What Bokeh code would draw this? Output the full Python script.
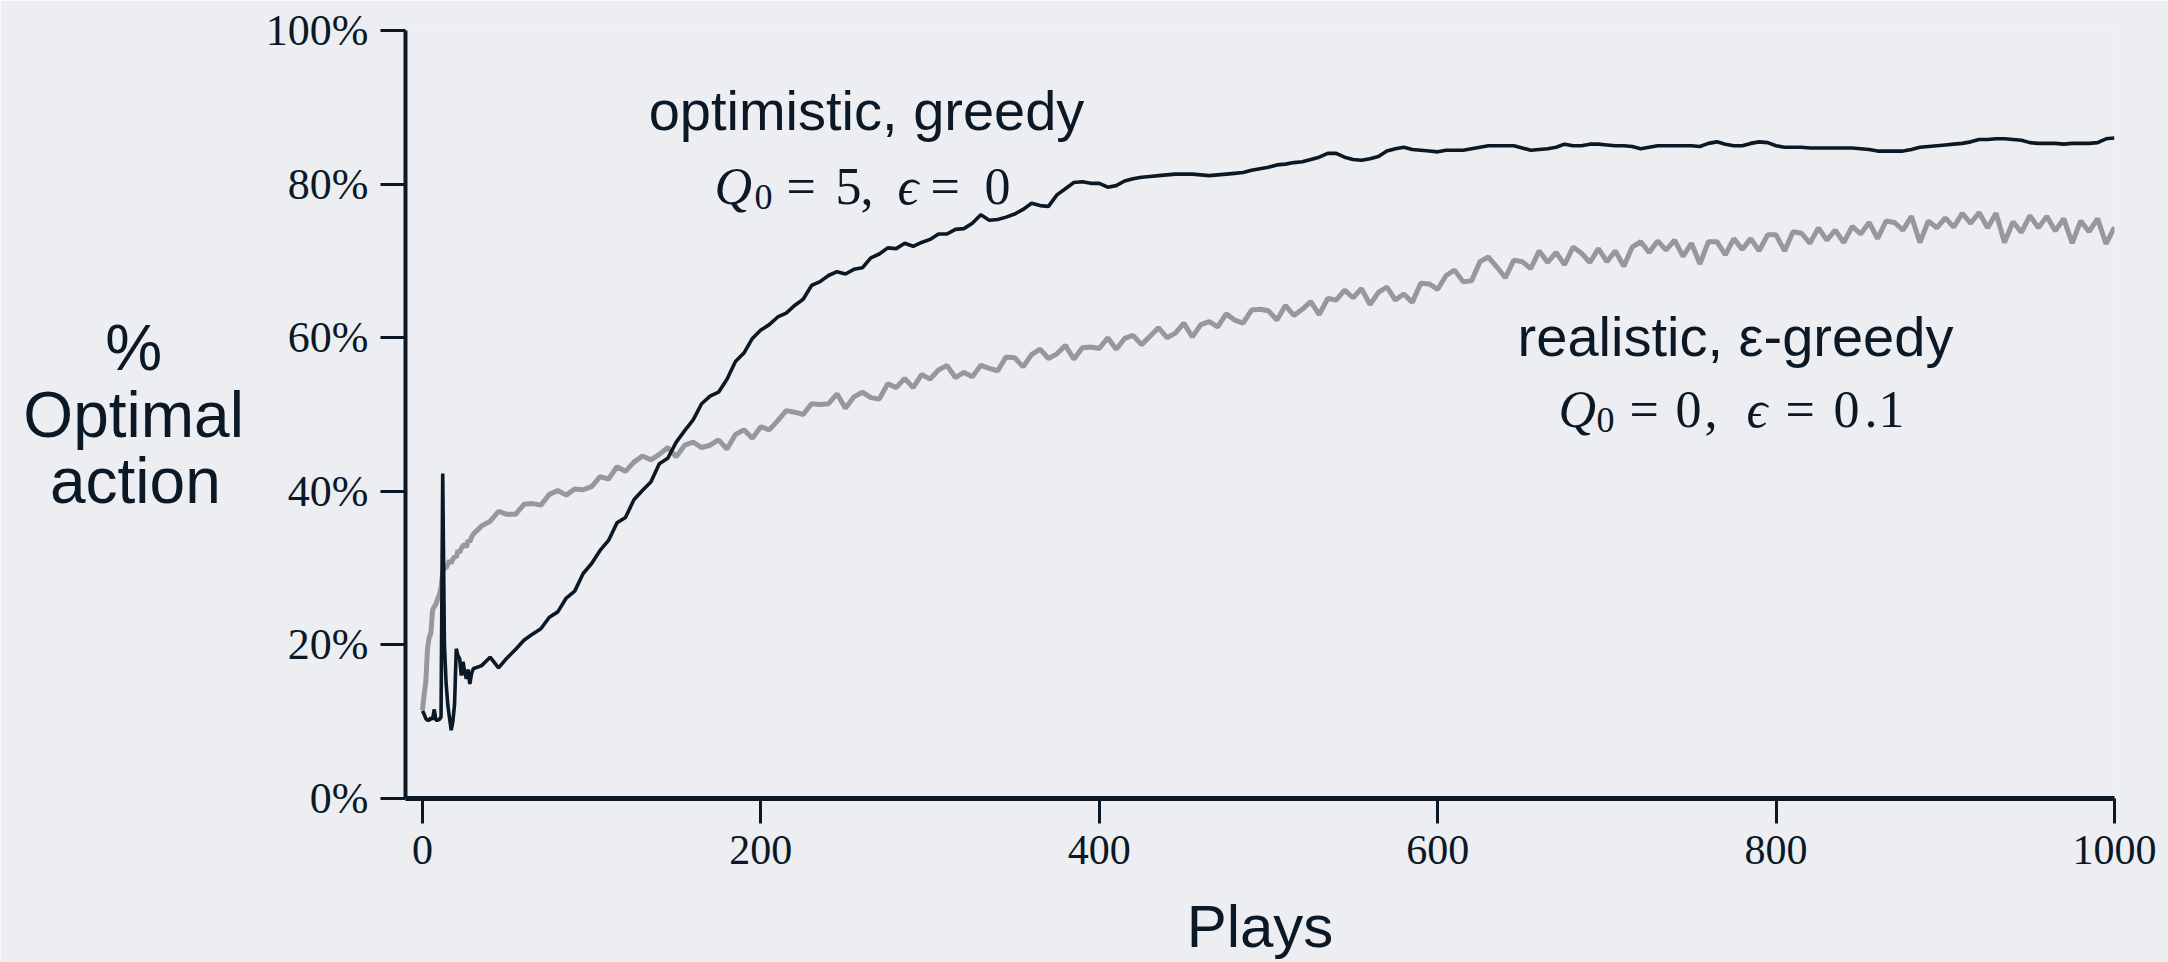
from bokeh.plotting import figure
from bokeh.models import FixedTicker, Label, Range1d, ColumnDataSource
from bokeh.embed import file_html
from bokeh.resources import INLINE

# ---------------- data ----------------
plays = list(range(0, 31)) + list(range(35, 1001, 5))

optimistic_greedy = [
    # plays 0-30
    11.4, 11.0, 10.4, 10.2, 10.2, 10.5, 10.3, 11.6, 10.2, 10.2,
    10.3, 10.6, 42.3, 20.0, 15.0, 12.2, 10.5, 8.9, 10.0, 12.3,
    19.5, 18.6, 18.2, 16.0, 17.8, 16.4, 15.6, 16.8, 14.9, 16.2, 16.9,
    # plays 35-95
    17.3, 18.4, 17.0, 18.3, 19.4, 20.6, 21.4, 22.1, 23.6, 24.3, 26.1, 27.0, 29.3,
    # plays 100-195
    30.6, 32.3, 33.6, 35.9, 36.6, 38.9, 40.1, 41.2, 43.6, 44.3,
    46.4, 47.9, 49.3, 51.4, 52.4, 52.9, 54.6, 56.9, 58.0, 59.9,
    # plays 200-295
    61.0, 61.7, 62.7, 63.2, 64.2, 65.0, 66.8, 67.3, 68.1, 68.6,
    68.3, 68.9, 69.1, 70.4, 70.9, 71.7, 71.6, 72.3, 71.9, 72.4,
    # plays 300-395
    72.8, 73.5, 73.5, 74.1, 74.2, 74.9, 76.0, 75.3, 75.4, 75.7,
    76.1, 76.7, 77.5, 77.2, 77.1, 78.6, 79.4, 80.2, 80.3, 80.1,
    # plays 400-495
    80.1, 79.6, 79.8, 80.4, 80.7, 80.9, 81.0, 81.1, 81.2, 81.3,
    81.3, 81.3, 81.2, 81.1, 81.2, 81.3, 81.4, 81.5, 81.8, 82.0,
    # plays 500-595
    82.2, 82.5, 82.6, 82.8, 82.9, 83.2, 83.5, 84.0, 84.0, 83.5,
    83.2, 83.1, 83.3, 83.6, 84.3, 84.6, 84.8, 84.5, 84.4, 84.3,
    # plays 600-695
    84.2, 84.4, 84.4, 84.4, 84.6, 84.8, 85.0, 85.0, 85.0, 85.0,
    84.7, 84.4, 84.5, 84.6, 84.8, 85.2, 85.0, 85.0, 85.2, 85.2,
    # plays 700-795
    85.1, 85.0, 85.0, 84.9, 84.6, 84.8, 85.0, 85.0, 85.0, 85.0,
    85.0, 84.9, 85.3, 85.5, 85.2, 85.0, 85.0, 85.3, 85.5, 85.4,
    # plays 800-895
    85.0, 84.8, 84.8, 84.8, 84.7, 84.7, 84.7, 84.7, 84.7, 84.7,
    84.6, 84.5, 84.3, 84.3, 84.3, 84.3, 84.5, 84.8, 84.9, 85.0,
    # plays 900-995
    85.1, 85.2, 85.3, 85.5, 85.8, 85.8, 85.9, 85.9, 85.8, 85.7,
    85.4, 85.3, 85.3, 85.3, 85.2, 85.3, 85.3, 85.3, 85.4, 85.9,
    # play 1000
    86.0,
]

realistic_egreedy = [
    # plays 0-30
    11.5, 13.5, 15.2, 19.5, 21.0, 21.5, 24.5, 25.0, 25.3, 26.0,
    26.5, 27.5, 29.5, 30.1, 30.0, 30.5, 31.0, 30.6, 31.2, 31.5,
    31.4, 32.3, 32.0, 32.6, 32.9, 33.1, 32.7, 33.6, 33.4, 34.0, 34.4,
    # plays 35-95
    35.5, 36.1, 37.4, 37.0, 37.0, 38.3, 38.4, 38.2, 39.6, 40.1, 39.5, 40.3, 40.2,
    # plays 100-195
    40.6, 41.9, 41.6, 43.2, 42.6, 43.8, 44.6, 44.1, 44.8, 45.7,
    44.5, 46.0, 46.4, 45.7, 46.0, 46.7, 45.5, 47.4, 48.0, 46.9,
    # plays 200-295
    48.4, 48.0, 49.2, 50.5, 50.3, 50.0, 51.4, 51.3, 51.4, 52.7,
    50.8, 52.3, 52.9, 52.2, 52.0, 54.0, 53.5, 54.7, 53.5, 55.2,
    # plays 300-395
    54.6, 55.8, 56.4, 54.8, 55.5, 54.9, 56.4, 56.0, 55.7, 57.5,
    57.4, 56.2, 57.8, 58.5, 57.3, 57.9, 59.0, 57.2, 58.7, 58.8,
    # plays 400-495
    58.6, 60.0, 58.5, 59.9, 60.3, 59.1, 60.2, 61.3, 60.0, 60.6,
    61.9, 60.1, 61.7, 62.1, 61.4, 63.1, 62.3, 61.9, 63.6, 63.7,
    # plays 500-595
    63.5, 62.3, 64.2, 62.9, 63.7, 64.7, 63.0, 65.1, 64.9, 66.2,
    65.2, 66.4, 64.3, 65.9, 66.6, 64.9, 65.7, 64.6, 67.1, 67.0,
    # plays 600-695
    66.3, 68.1, 68.8, 67.3, 67.4, 69.9, 70.5, 69.2, 67.8, 70.1,
    69.9, 69.0, 71.3, 69.8, 71.1, 69.5, 71.8, 71.0, 69.8, 71.6,
    # plays 700-795
    69.9, 71.3, 69.3, 71.8, 72.5, 71.1, 72.6, 71.4, 72.7, 70.6,
    72.3, 69.6, 72.5, 72.5, 70.8, 72.9, 71.5, 72.9, 71.3, 73.4,
    # plays 800-895
    73.4, 71.3, 73.8, 73.6, 72.3, 74.3, 72.7, 74.0, 72.4, 74.5,
    73.5, 75.0, 72.9, 75.2, 75.0, 74.0, 75.8, 72.4, 75.2, 74.3,
    # plays 900-995
    75.6, 74.4, 76.2, 74.9, 76.3, 74.3, 76.2, 72.4, 75.1, 73.7,
    75.9, 74.3, 75.8, 73.9, 75.5, 72.3, 75.2, 73.8, 75.5, 72.2,
    # play 1000
    74.4,
]

x_ticks = [0, 200, 400, 600, 800, 1000]
y_ticks = [0, 20, 40, 60, 80, 100]
y_tick_labels = ["0%", "20%", "40%", "60%", "80%", "100%"]

# ---------------- style / layout ----------------
BG = "#edeef1"
DARK = "#0b1826"
GRAY = "#97989c"
W, H = 2168, 962
FL, FR, FT, FB = 405, 2114, 30, 798   # frame edges in pixels
X0, X1, Y0, Y1 = -10, 1000, 0, 100

p = figure(width=W, height=H, x_range=Range1d(X0, X1), y_range=Range1d(Y0, Y1),
           output_backend="svg", toolbar_location=None,
           min_border_left=FL, min_border_right=W - FR,
           min_border_top=FT, min_border_bottom=H - FB)
p.background_fill_color = BG
p.border_fill_color = BG
p.outline_line_color = None
p.grid.visible = False

src = ColumnDataSource(dict(x=plays, opt=optimistic_greedy, real=realistic_egreedy))
p.line("x", "real", source=src, line_color=GRAY, line_width=5)
p.line("x", "opt", source=src, line_color=DARK, line_width=3.6)

for ax in (p.xaxis[0], p.yaxis[0]):
    ax.axis_line_color = DARK
    ax.major_tick_line_color = DARK
    ax.major_tick_line_width = 3
    ax.major_tick_in = 0
    ax.major_tick_out = 25
    ax.minor_tick_line_color = None
    ax.major_label_text_font = "Liberation Serif"
    ax.major_label_text_color = DARK
    ax.axis_label_text_font = "Liberation Sans"
    ax.axis_label_text_font_style = "normal"
    ax.axis_label_text_color = DARK
p.xaxis.major_label_text_font_size = "42px"
p.yaxis.major_label_text_font_size = "44px"
p.xaxis.axis_line_width = 5
p.yaxis.axis_line_width = 4
p.xaxis.major_label_standoff = 12
p.yaxis.major_label_standoff = 12
p.xaxis.ticker = FixedTicker(ticks=x_ticks)
p.yaxis.ticker = FixedTicker(ticks=y_ticks)
p.yaxis.major_label_overrides = {t: s for t, s in zip(y_ticks, y_tick_labels)}

p.xaxis.axis_label = "Plays"
p.xaxis.axis_label_text_font_size = "60px"
p.xaxis.axis_label_text_line_height = 1.0
p.xaxis.axis_label_standoff = 26

# the lines of a multi-line axis label are right-aligned: pad to centre them
p.yaxis.axis_label = "%\u2002\u2002\u00a0\nOptimal\naction\u00a0\u200a"
p.yaxis.axis_label_text_font_size = "64px"
p.yaxis.axis_label_text_line_height = 0.93
p.yaxis.axis_label_orientation = "horizontal"
p.yaxis.axis_label_standoff = 19


def dx(px):
    return X0 + (px - FL) * (X1 - X0) / (FR - FL)


def dy(py):
    return Y0 + (FB - py) * (Y1 - Y0) / (FB - FT)


def add_text(px, py, text, size, font="Liberation Sans", style="normal", align="left"):
    p.add_layout(Label(x=dx(px), y=dy(py), text=text, text_font=font,
                       text_font_size=f"{size}px", text_font_style=style,
                       text_color=DARK, text_align=align, text_baseline="alphabetic"))


# annotations
add_text(866, 110, "optimistic, greedy", 56, align="center")
add_text(1735, 336, "realistic, ε-greedy", 56, align="center")

SERIF = "Liberation Serif"
MS, SS = 52, 36
# Q0 = 5, eps = 0
b1 = 186
add_text(714, b1, "Q", MS, SERIF, "italic")
add_text(754, b1 + 10, "0", SS, SERIF)
add_text(786, b1, "=", MS, SERIF)
add_text(835, b1, "5", MS, SERIF)
add_text(860, b1, ",", MS, SERIF)
add_text(897, b1, "ϵ", MS, SERIF, "italic")
add_text(930, b1, "=", MS, SERIF)
add_text(984, b1, "0", MS, SERIF)
# Q0 = 0, eps = 0.1
b2 = 409
add_text(1558, b2, "Q", MS, SERIF, "italic")
add_text(1596, b2 + 10, "0", SS, SERIF)
add_text(1629, b2, "=", MS, SERIF)
add_text(1675, b2, "0", MS, SERIF)
add_text(1704, b2, ",", MS, SERIF)
add_text(1746, b2, "ϵ", MS, SERIF, "italic")
add_text(1785, b2, "=", MS, SERIF)
add_text(1833, b2, "0", MS, SERIF)
add_text(1864, b2, ".", MS, SERIF)
add_text(1878, b2, "1", MS, SERIF)

open("out.html", "w").write(file_html(p, INLINE))
